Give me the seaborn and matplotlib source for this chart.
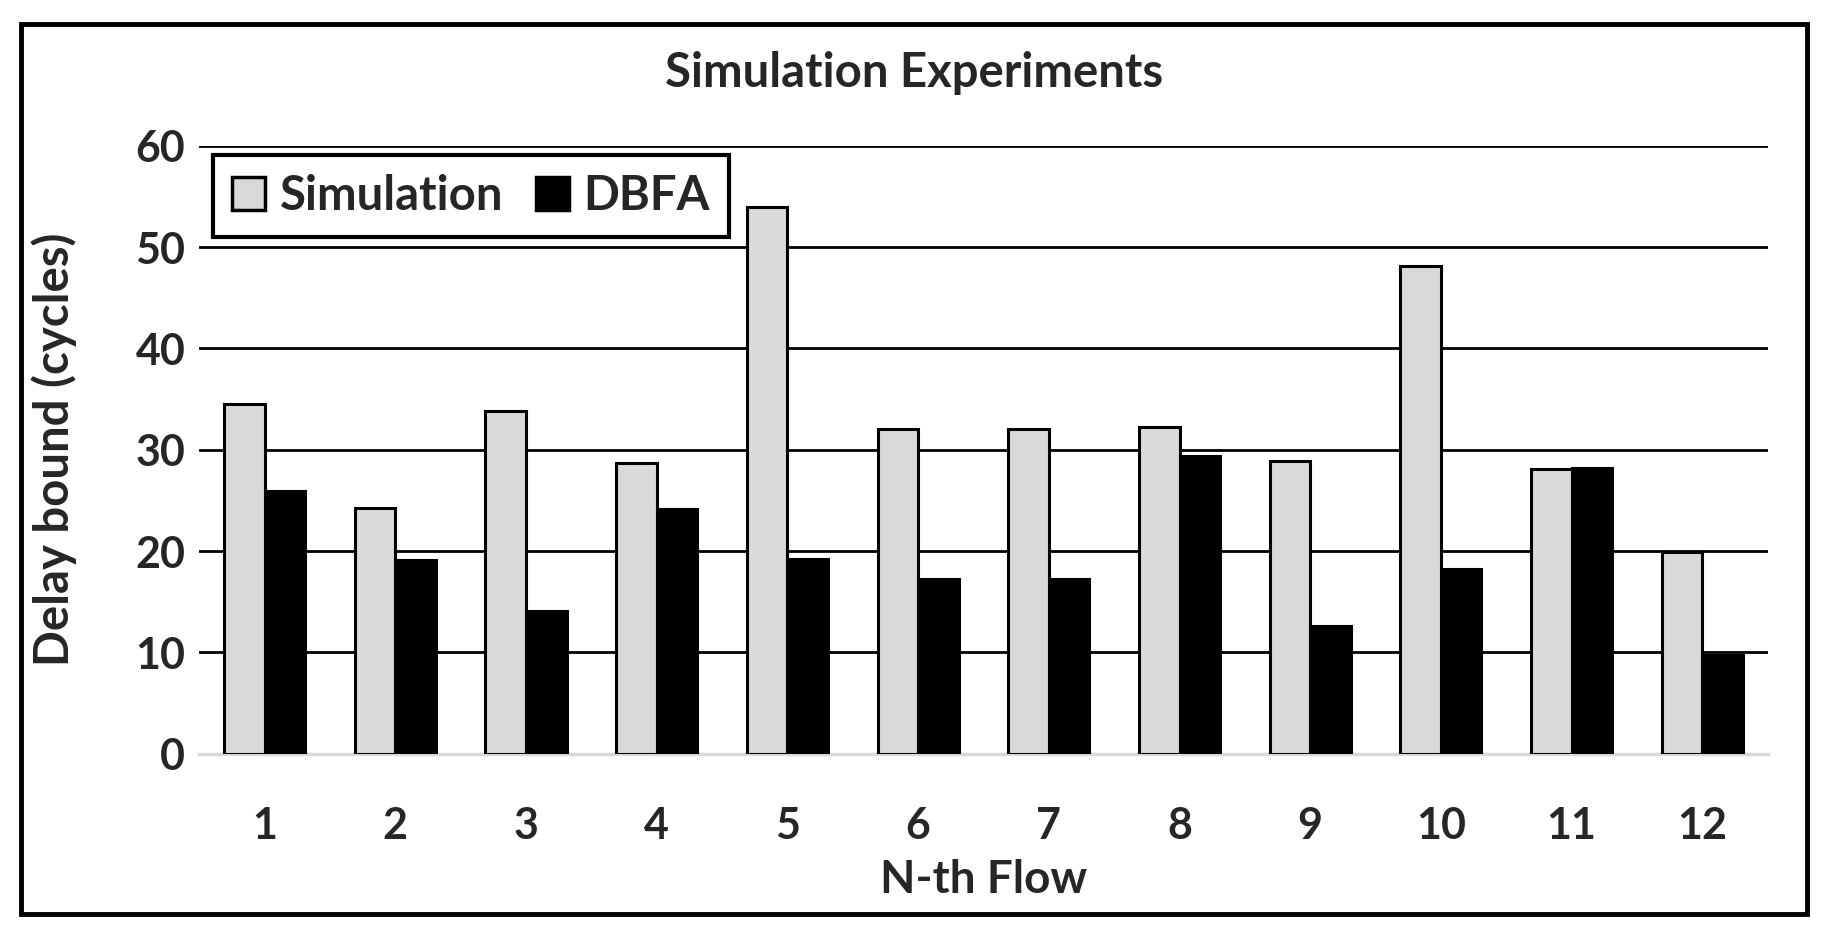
import numpy as np
import pandas as pd
import seaborn as sns
import matplotlib.pyplot as plt
from matplotlib.patches import Rectangle

flows = [str(i) for i in range(1, 13)]
simulation = [34.5, 24.2, 33.8, 28.7, 54.0, 32.0, 32.0, 32.2, 28.9, 48.1, 28.1, 19.9]
dbfa = [25.9, 19.1, 14.1, 24.1, 19.2, 17.2, 17.2, 29.4, 12.6, 18.2, 28.2, 9.7]
series = ["Simulation", "DBFA"]
yticks = [0, 10, 20, 30, 40, 50, 60]

df = pd.DataFrame({
    "flow": flows * 2,
    "delay": simulation + dbfa,
    "series": [series[0]] * len(flows) + [series[1]] * len(flows),
})

sns.set_style("white")
plt.rcParams['font.family'] = ['Lato', 'DejaVu Sans']
plt.rcParams['font.weight'] = 'bold'

fig = plt.figure(figsize=(18.28, 9.35), dpi=100)
ax = fig.add_axes([0.109, 0.194, 0.858, 0.650])

sns.barplot(data=df, x="flow", y="delay", hue="series", ax=ax,
            palette={"Simulation": "#d9d9d9", "DBFA": "black"},
            width=0.62, edgecolor="black", linewidth=2.2, saturation=1,
            zorder=3)

ax.set_ylim(0, 60)
ax.set_xlim(-0.5, 11.5)
ax.set_yticks(yticks)
ax.yaxis.grid(True, color="black", linewidth=2.0, zorder=0)
ax.set_axisbelow(True)
for side in ["top", "right", "left"]:
    ax.spines[side].set_visible(False)
ax.spines["bottom"].set_color("#d9d9d9")
ax.spines["bottom"].set_linewidth(2.5)
ax.tick_params(axis="both", length=0, labelsize=31)
ax.tick_params(axis="y", pad=10)
ax.tick_params(axis="x", pad=38)
for lab in ax.get_xticklabels() + ax.get_yticklabels():
    lab.set_fontweight("bold")

ax.set_xlabel("N-th Flow", fontsize=33, fontweight="bold", labelpad=9)
ax.set_ylabel("Delay bound (cycles)", fontsize=34, fontweight="bold", labelpad=42)
# the title is centred on the whole figure, not on the plot area
fig.suptitle("Simulation Experiments", x=0.5, y=0.922, va="center",
             fontsize=34, fontweight="bold")

leg = ax.legend(loc="upper left", bbox_to_anchor=(0.009, 0.985), ncol=2,
                fontsize=34, frameon=True, fancybox=False, framealpha=1,
                handlelength=0.7, handleheight=0.7, handletextpad=0.3,
                columnspacing=0.7, borderpad=0.4, borderaxespad=0)
leg.get_frame().set_edgecolor("black")
leg.get_frame().set_linewidth(3)
for t in leg.get_texts():
    t.set_fontweight("bold")
for h in leg.legend_handles:
    h.set_edgecolor("black")
    h.set_linewidth(2.5)

fig.patches.append(Rectangle((0.0115, 0.022), 0.977, 0.952, transform=fig.transFigure,
                             fill=False, edgecolor="black", linewidth=3.5))

fig.savefig("out.png", dpi=100)
